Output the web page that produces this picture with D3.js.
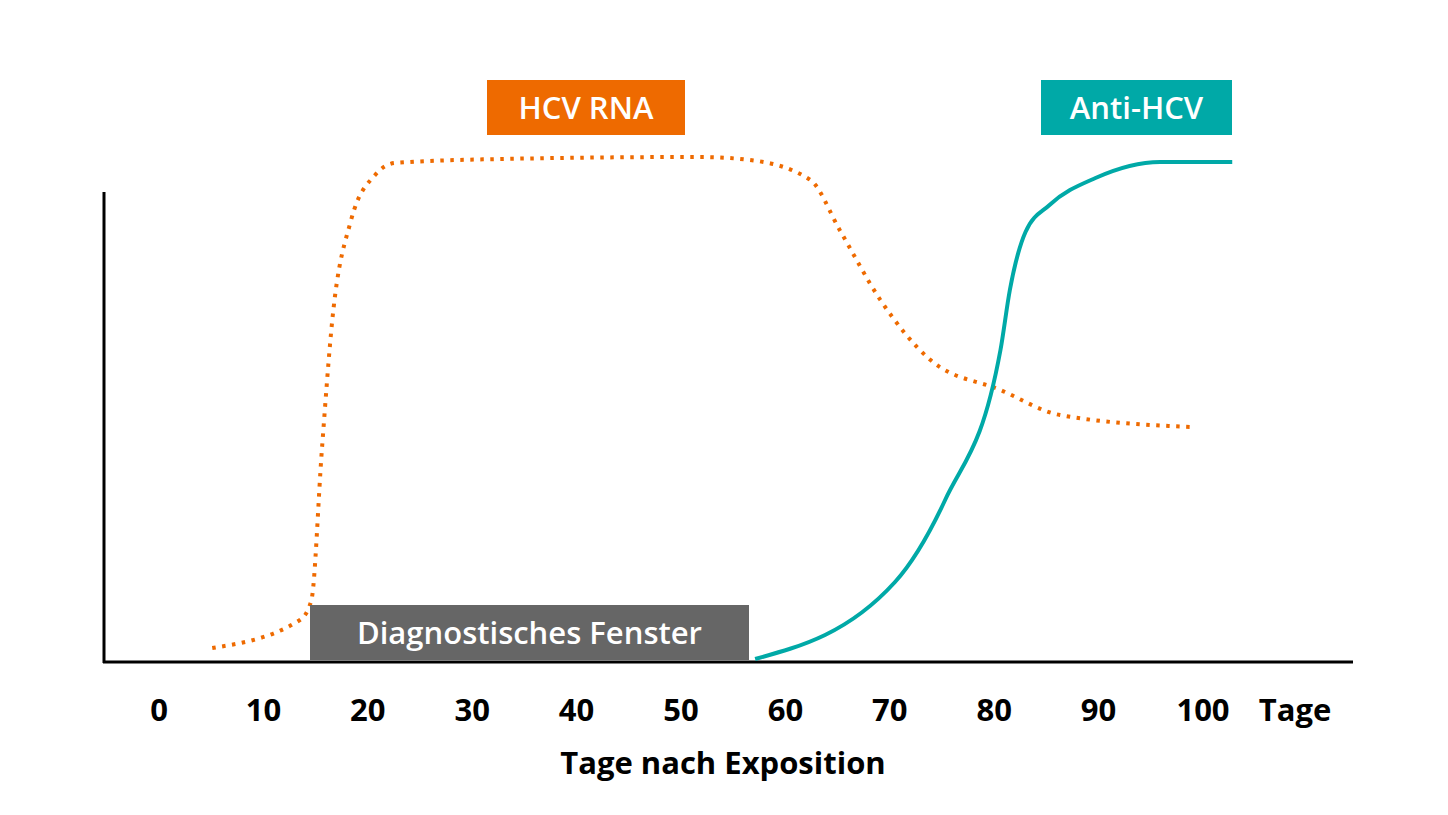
<!DOCTYPE html>
<html><head><meta charset="utf-8">
<script src="https://cdn.jsdelivr.net/npm/d3@7"></script>
<style>body{margin:0;background:#fff}text{font-family:"Open Sans",sans-serif}</style>
</head><body><svg id="c" width="1448" height="815"></svg>
<script>
const ticks=[0,10,20,30,40,50,60,70,80,90,100];
const rnaDays=[5.1,13.5,14.6,15.6,16.6,18.4,20.7,22.6,32.7,51.8,56.6,62.4,65.2,69.1,73.9,80.6,86.3,98.8];
const rnaVals=[2.8,8.4,12.4,42.4,68.4,88.4,97.4,99.8,100.6,101,100.4,96.4,86.4,72.4,60.4,54.4,49.4,47];
const antiDays=[57.1,70.5,75.3,80.6,81.5,83,85.3,89.7,95.9,102.8];
const antiVals=[0.6,16,32.4,62.4,74.4,86,91.4,96.8,100,100];
const svg=d3.select("#c");
const x=d3.scaleLinear().domain([0,100]).range([159,1203]);
const y=d3.scaleLinear().domain([0,100]).range([662,162]);
svg.append("line").attr("x1",104).attr("x2",104).attr("y1",192).attr("y2",663).attr("stroke","#000").attr("stroke-width",3);
svg.append("line").attr("x1",103).attr("x2",1353).attr("y1",662).attr("y2",662).attr("stroke","#000").attr("stroke-width",3);
svg.selectAll(".t").data(ticks).enter().append("text").attr("x",d=>x(d)).attr("y",721).attr("text-anchor","middle")
 .attr("font-size",31).attr("font-weight",700).text(d=>d);
svg.append("text").attr("x",1295).attr("y",721).attr("text-anchor","middle").attr("font-size",31).attr("font-weight",700).text("Tage");
svg.append("text").attr("x",723).attr("y",774).attr("text-anchor","middle").attr("font-size",31).attr("font-weight",700).text("Tage nach Exposition");
const line=d3.line().x(d=>x(d[0])).y(d=>y(d[1])).curve(d3.curveMonotoneX);
svg.append("path").attr("d",line(d3.zip(rnaDays,rnaVals))).attr("fill","none").attr("stroke","#EE6A00").attr("stroke-width",4).attr("stroke-dasharray","3.5,6.5");
svg.append("path").attr("d",line(d3.zip(antiDays,antiVals))).attr("fill","none").attr("stroke","#00A9A7").attr("stroke-width",4);
function box(x0,x1,y0,y1,col,t){
 svg.append("rect").attr("x",x0).attr("y",y0).attr("width",x1-x0).attr("height",y1-y0).attr("fill",col);
 svg.append("text").attr("x",(x0+x1)/2).attr("y",(y0+y1)/2+11).attr("text-anchor","middle").attr("fill","#fff").attr("font-size",31).attr("font-weight",600).text(t);
}
box(487,685,80,135,"#EE6A00","HCV RNA");
box(1041,1232,80,135,"#00A9A7","Anti-HCV");
box(310,749,605,660,"#666666","Diagnostisches Fenster");
</script></body></html>
